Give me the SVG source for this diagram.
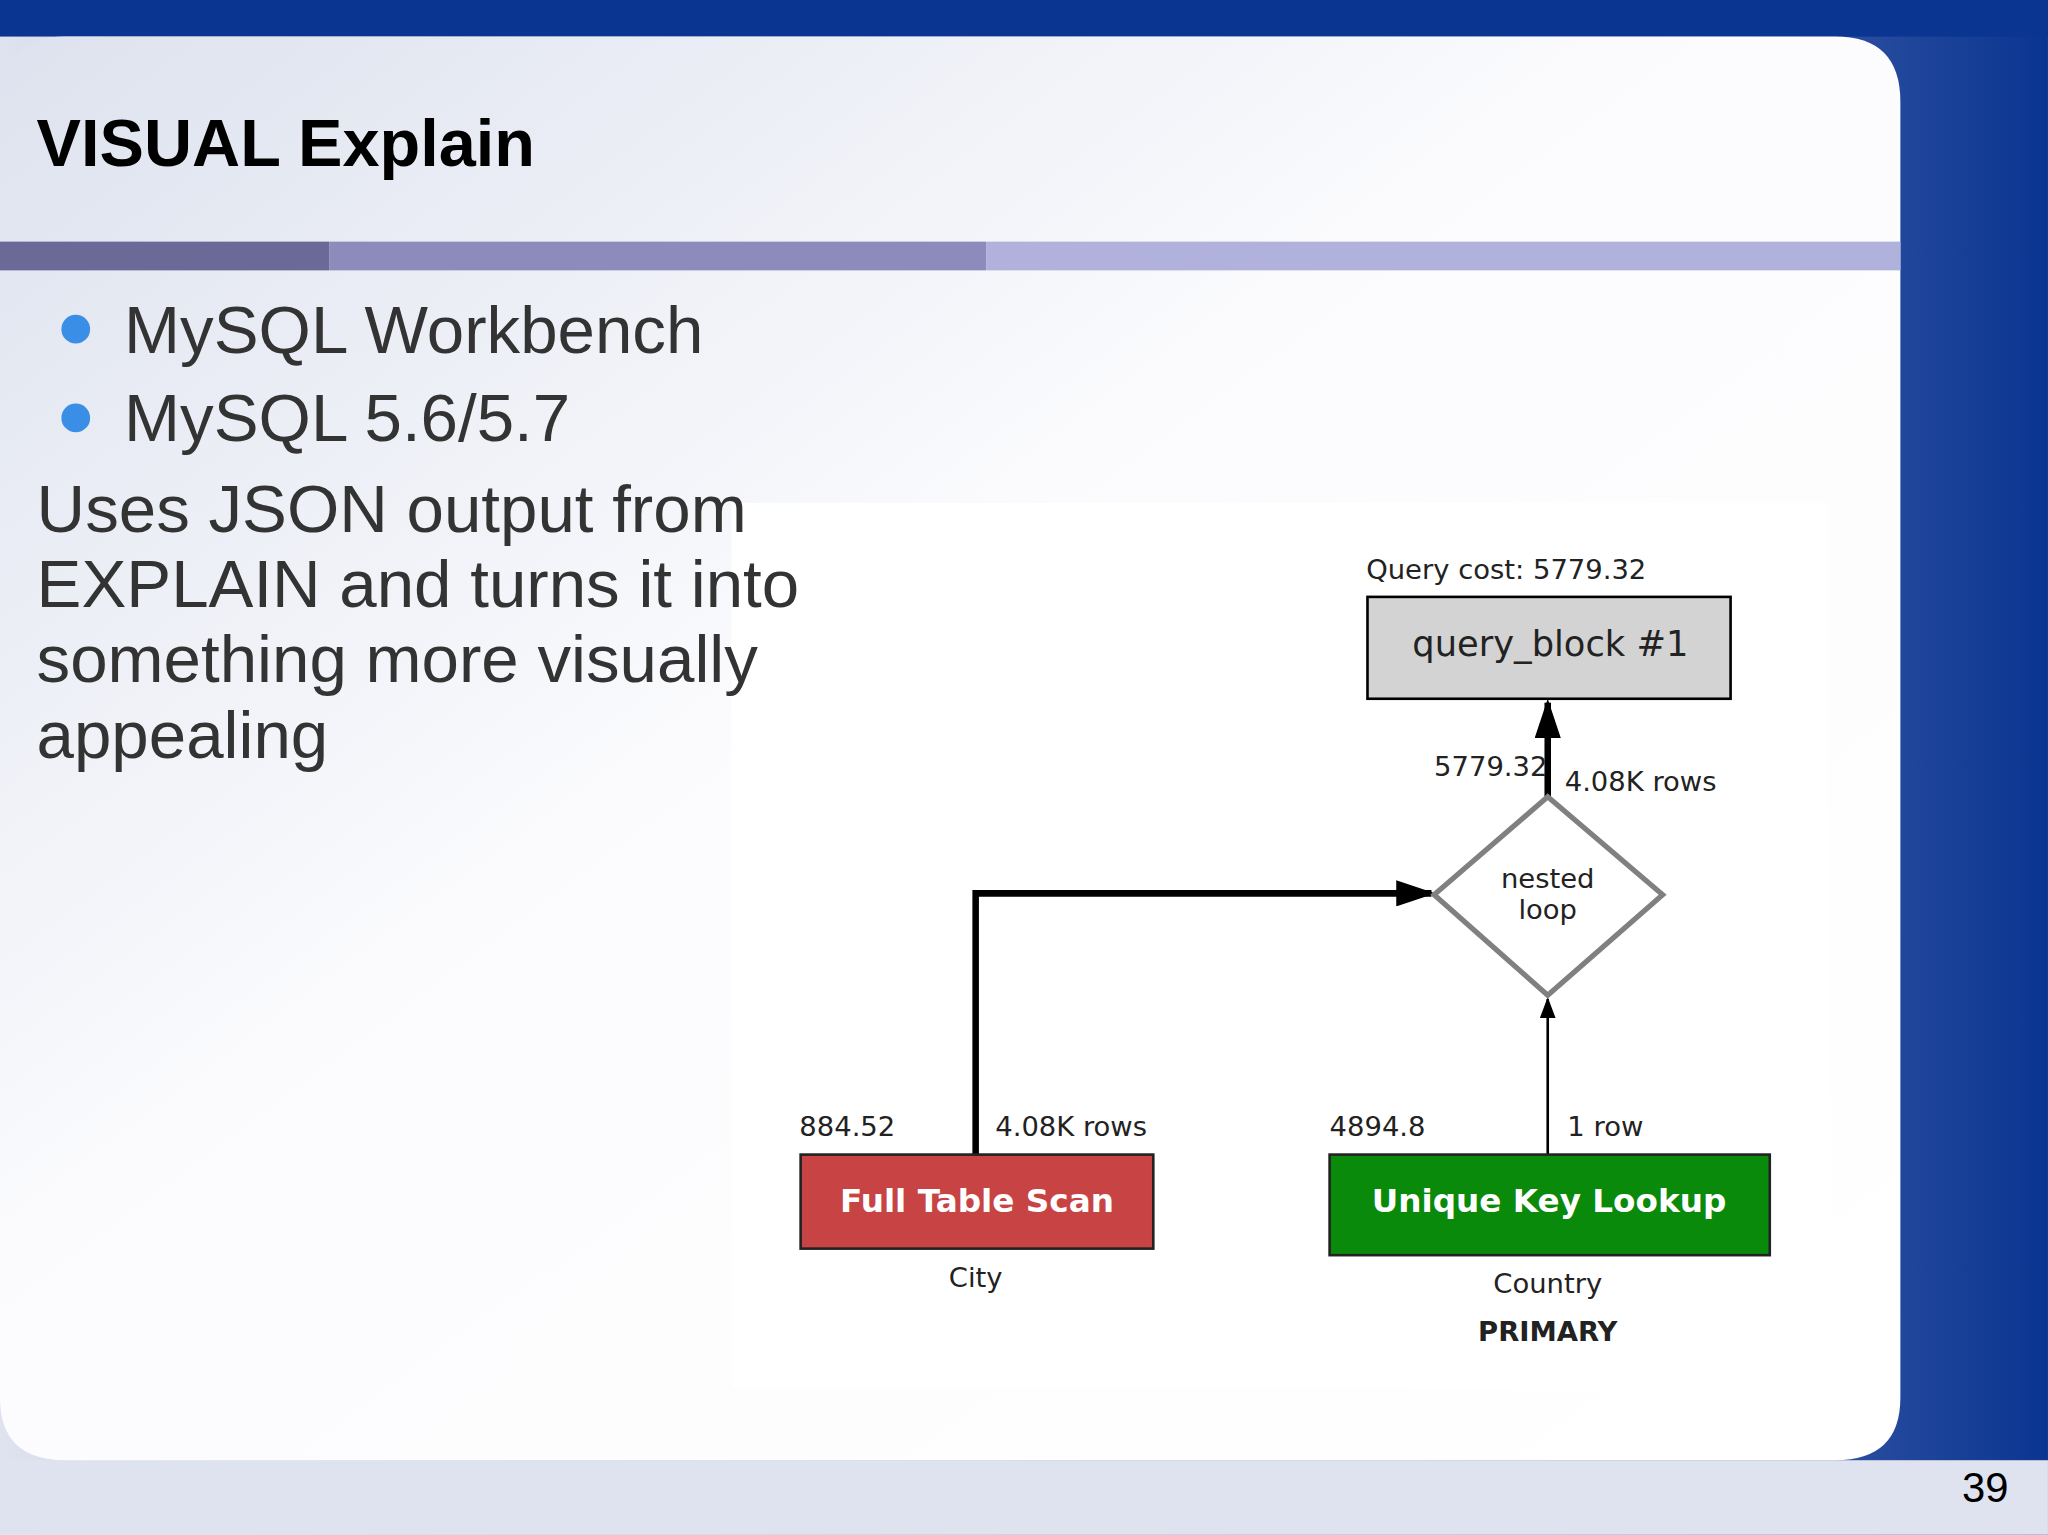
<svg xmlns="http://www.w3.org/2000/svg" width="2048" height="1535" viewBox="0 0 2048 1535">
<defs>
<linearGradient id="bg" x1="0" y1="0" x2="1" y2="0"><stop offset="0" stop-color="#dfe3ef"/><stop offset="0.85" stop-color="#3a5aa8"/><stop offset="1" stop-color="#0a3590"/></linearGradient>
<linearGradient id="panel" x1="0" y1="0" x2="1" y2="1"><stop offset="0" stop-color="#dde2ee"/><stop offset="0.45" stop-color="#fcfcfe"/><stop offset="1" stop-color="#ffffff"/></linearGradient>
<marker id="ah" viewBox="0 0 10 10" refX="9" refY="5" markerWidth="30" markerHeight="20" markerUnits="userSpaceOnUse" orient="auto" preserveAspectRatio="none"><path d="M0,0 L10,5 L0,10 z" fill="#000"/></marker>
<marker id="ahb" viewBox="0 0 10 10" refX="9" refY="5" markerWidth="16" markerHeight="12" markerUnits="userSpaceOnUse" orient="auto" preserveAspectRatio="none"><path d="M0,0 L10,5 L0,10 z" fill="#000"/></marker>
<style>
.t{font-family:"Liberation Sans",Arial,sans-serif}
.s{font-family:"DejaVu Sans",sans-serif;font-size:21px;fill:#222}
</style>
</defs>
<g transform="scale(1.3061)">
<rect x="0" y="0" width="1568" height="1175" fill="url(#bg)"/>
<rect x="0" y="0" width="1568" height="28" fill="#0a3590"/>
<rect x="0" y="1118" width="1568" height="57" fill="#dfe3ef"/>
<path d="M0,80 Q0,28 50,28 L1405,28 Q1455,28 1455,78 L1455,1070 Q1455,1118 1405,1118 L50,1118 Q0,1118 0,1070 z" fill="url(#panel)"/>
<text class="t" x="28" y="127" font-size="51" font-weight="bold" fill="#000">VISUAL Explain</text>
<rect x="0" y="185" width="252" height="22" fill="#6a6a98"/>
<rect x="252" y="185" width="503" height="22" fill="#8c8cbc"/>
<rect x="755" y="185" width="700" height="22" fill="#b0b2dc"/>
<circle cx="58" cy="252" r="11" fill="#3a8ee6"/>
<circle cx="58" cy="320" r="11" fill="#3a8ee6"/>
<g class="t" font-size="51.5" fill="#333">
<text x="95" y="270">MySQL Workbench</text>
<text x="95" y="338">MySQL 5.6/5.7</text>
</g>
<rect x="560" y="385" width="840" height="677" fill="#fff"/>
<g class="t" font-size="51.5" fill="#333">
<text x="28" y="407">Uses JSON output from</text>
<text x="28" y="465">EXPLAIN and turns it into</text>
<text x="28" y="522">something more visually</text>
<text x="28" y="580">appealing</text>
</g>
<g id="connectors" fill="none" stroke="#000">
<line x1="1185" y1="610" x2="1185" y2="538" stroke-width="5" marker-end="url(#ah)"/>
<polyline points="747,884 747,684 1096,684" stroke-width="5" marker-end="url(#ah)"/>
<line x1="1185" y1="884" x2="1185" y2="765" stroke-width="2" marker-end="url(#ahb)"/>
</g>
<g id="cost"><text class="s" x="1046" y="443">Query cost: 5779.32</text></g>
<g id="qb"><rect x="1047" y="457" width="278" height="78" fill="#d3d3d3" stroke="#000" stroke-width="2"/>
<text x="1187" y="502" font-family="DejaVu Sans,sans-serif" font-size="27" text-anchor="middle" fill="#222">query_block #1</text></g>
<g id="l1"><text class="s" x="1098" y="594">5779.32</text><text class="s" x="1198" y="606">4.08K rows</text></g>
<g id="nl"><polygon points="1185,610 1273,685 1185,762 1098,685" fill="#fff" stroke="#808080" stroke-width="4"/>
<text class="s" x="1185" y="680" text-anchor="middle" font-size="24">nested</text><text class="s" x="1185" y="704" text-anchor="middle" font-size="24">loop</text></g>
<g id="l2"><text class="s" x="612" y="870">884.52</text><text class="s" x="762" y="870">4.08K rows</text><text class="s" x="1018" y="870">4894.8</text><text class="s" x="1200" y="870">1 row</text></g>
<g id="fts"><rect x="613" y="884" width="270" height="72" fill="#c84444" stroke="#222" stroke-width="2"/>
<text x="748" y="928" font-family="DejaVu Sans,sans-serif" font-size="25" font-weight="bold" text-anchor="middle" fill="#fff">Full Table Scan</text>
<text class="s" x="747" y="985" text-anchor="middle" font-size="23">City</text></g>
<g id="ukl"><rect x="1018" y="884" width="337" height="77" fill="#0a8a0a" stroke="#222" stroke-width="2"/>
<text x="1186" y="928" font-family="DejaVu Sans,sans-serif" font-size="25" font-weight="bold" text-anchor="middle" fill="#fff">Unique Key Lookup</text>
<text class="s" x="1185" y="990" text-anchor="middle" font-size="23">Country</text>
<text class="s" x="1185" y="1027" text-anchor="middle" font-size="22" font-weight="bold">PRIMARY</text></g>
<text class="t" x="1520" y="1150" font-size="32" text-anchor="middle" fill="#000">39</text>
</g>
</svg>
